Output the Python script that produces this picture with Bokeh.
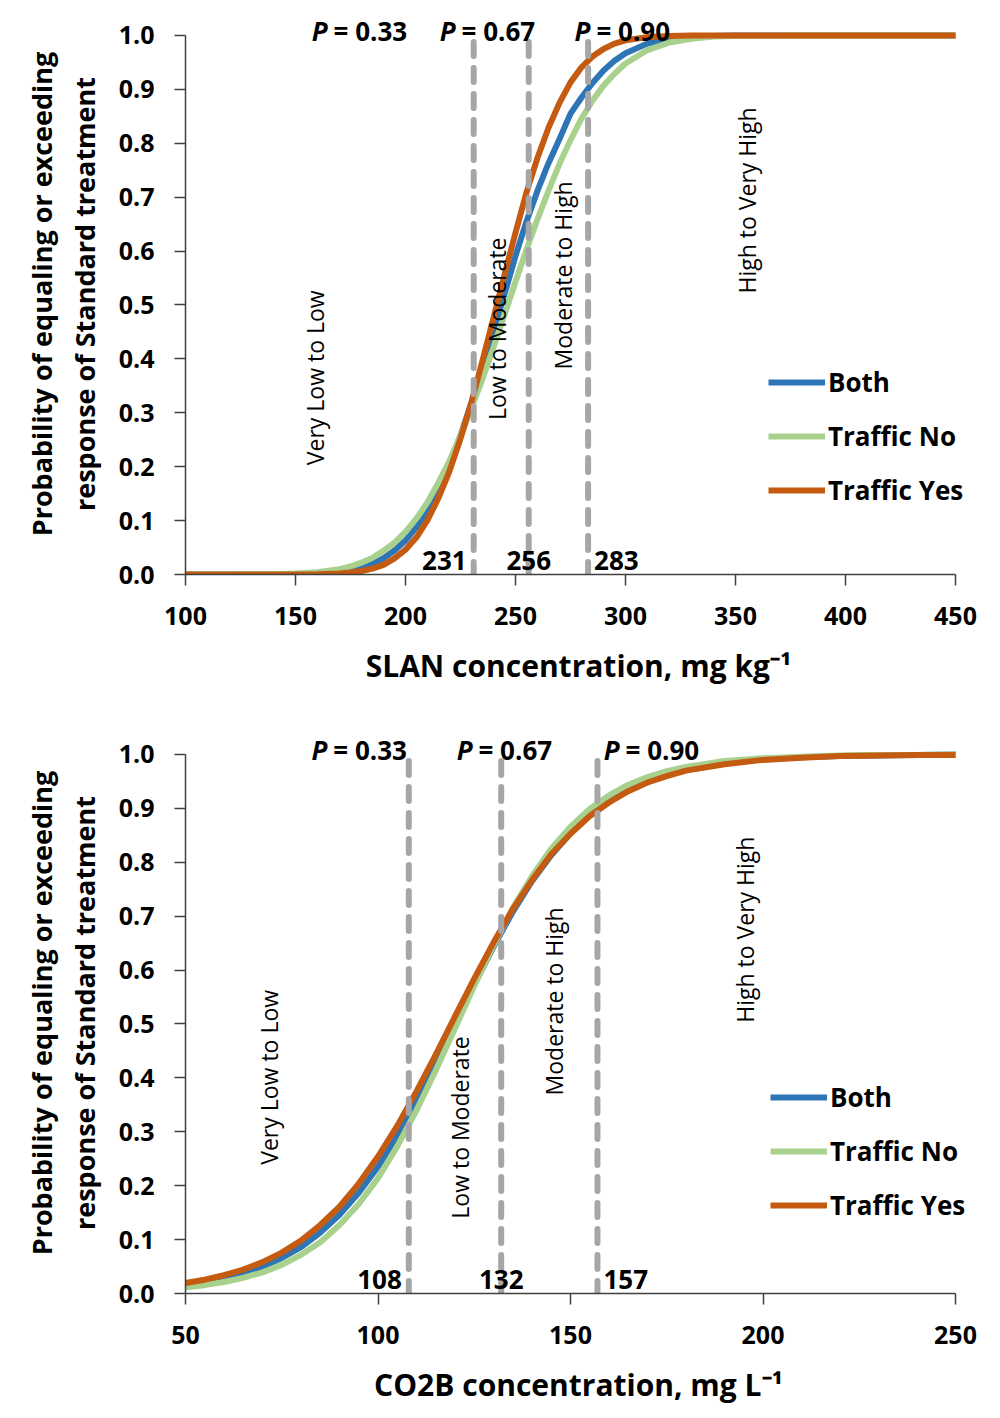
import numpy as np
from bokeh.plotting import figure
from bokeh.layouts import column
from bokeh.models import NumeralTickFormatter, FixedTicker, Range1d
from bokeh.core.properties import value
from bokeh.embed import file_html
from bokeh.resources import INLINE

# ---------------- data ----------------
series_names = ["Both", "Traffic No", "Traffic Yes"]
series_colors = ["#2E75B6", "#A9D18E", "#C55A11"]
y_ticks = [0.0, 0.1, 0.2, 0.3, 0.4, 0.5, 0.6, 0.7, 0.8, 0.9, 1.0]
p_levels = ["0.33", "0.67", "0.90"]
region_labels = ["Very Low to Low", "Low to Moderate", "Moderate to High", "High to Very High"]

# Panel 1: SLAN
slan_x = [100, 120, 140, 150, 160, 170, 175, 180, 185, 190, 195, 200, 205, 210, 215, 220,
          225, 230, 235, 240, 245, 250, 255, 260, 265, 270, 275, 280, 285, 290, 295, 300,
          310, 320, 330, 340, 350, 375, 400, 450]
slan_both = [0.0, 0.0, 0.0001, 0.0005, 0.0017, 0.0049, 0.0082, 0.0129, 0.0202, 0.0301, 0.0446,
             0.063, 0.0885, 0.119, 0.159, 0.206, 0.258, 0.319, 0.382, 0.452, 0.520, 0.591,
             0.655, 0.712, 0.763, 0.808, 0.855, 0.885, 0.912, 0.935, 0.953, 0.967, 0.985,
             0.994, 0.998, 0.999, 1.0, 1.0, 1.0, 1.0]
slan_no = [0.0, 0.0001, 0.0006, 0.0017, 0.0044, 0.010, 0.015, 0.022, 0.031, 0.044, 0.059,
           0.079, 0.104, 0.134, 0.171, 0.211, 0.258, 0.309, 0.363, 0.421, 0.482, 0.543,
           0.603, 0.659, 0.712, 0.762, 0.806, 0.846, 0.879, 0.907, 0.929, 0.948, 0.973,
           0.987, 0.994, 0.998, 0.999, 1.0, 1.0, 1.0]
slan_yes = [0.0, 0.0, 0.0, 0.0001, 0.0005, 0.0019, 0.0036, 0.0064, 0.011, 0.018, 0.030,
            0.046, 0.069, 0.101, 0.142, 0.192, 0.252, 0.320, 0.397, 0.476, 0.556, 0.634,
            0.709, 0.773, 0.829, 0.875, 0.913, 0.941, 0.961, 0.975, 0.985, 0.991, 0.997,
            0.999, 1.0, 1.0, 1.0, 1.0, 1.0, 1.0]
slan_thresholds = [231, 256, 283]
slan_x_ticks = [100, 150, 200, 250, 300, 350, 400, 450]

# Panel 2: CO2B
co2b_x = [50, 55, 60, 65, 70, 75, 80, 85, 90, 95, 100, 105, 110, 115, 120, 125, 130, 135,
          140, 145, 150, 155, 160, 165, 170, 175, 180, 190, 200, 210, 220, 230, 240, 250]
co2b_both = [0.0158, 0.0212, 0.0282, 0.0377, 0.0497, 0.0659, 0.0862, 0.113, 0.146, 0.187,
             0.235, 0.292, 0.357, 0.427, 0.500, 0.573, 0.643, 0.708, 0.765, 0.813, 0.854,
             0.887, 0.914, 0.934, 0.950, 0.962, 0.972, 0.984, 0.991, 0.995, 0.997, 0.998,
             0.999, 1.0]
co2b_no = [0.0114, 0.0155, 0.0213, 0.0290, 0.0392, 0.0531, 0.0717, 0.0953, 0.127, 0.166,
           0.214, 0.273, 0.340, 0.414, 0.492, 0.571, 0.646, 0.715, 0.774, 0.825, 0.866,
           0.899, 0.924, 0.944, 0.958, 0.969, 0.977, 0.988, 0.993, 0.996, 0.998, 0.999,
           0.999, 1.0]
co2b_yes = [0.0194, 0.0256, 0.0339, 0.0444, 0.0582, 0.0759, 0.0981, 0.127, 0.161, 0.204,
            0.254, 0.311, 0.375, 0.443, 0.514, 0.584, 0.651, 0.713, 0.767, 0.815, 0.853,
            0.886, 0.911, 0.932, 0.948, 0.960, 0.970, 0.982, 0.990, 0.994, 0.997, 0.998,
            0.999, 0.999]
co2b_thresholds = [108, 132, 157]
co2b_x_ticks = [50, 100, 150, 200, 250]

FONT = value("Open Sans")
AXIS_COLOR = "#404040"
Y_TOP = 1.0408
FRAME_W = 770     # px between first and last x tick
EXTRA_R = 16      # px of frame beyond last tick (room for legend text)


def make_panel(x, ys, thresholds, x_ticks, xlabel, p_anchor_x, region_xy,
               legend_loc, height, border_top, border_bottom):
    span = x_ticks[-1] - x_ticks[0]
    xr = Range1d(x_ticks[0], x_ticks[-1] + span * EXTRA_R / FRAME_W)
    p = figure(width=990, height=height, x_range=xr, y_range=Range1d(0, Y_TOP),
               output_backend="svg", toolbar_location=None,
               min_border_left=185, min_border_right=990 - 185 - FRAME_W - EXTRA_R,
               min_border_top=border_top, min_border_bottom=border_bottom)
    p.outline_line_color = None
    p.grid.visible = False
    p.background_fill_color = "white"
    p.border_fill_color = "white"

    # curves
    for name, col, yv in zip(series_names, series_colors, ys):
        p.line(x, yv, line_color=col, line_width=6, legend_label=name, line_join="round")

    # dashed threshold lines
    for t in thresholds:
        p.line([t, t], [0.988, 0.0], line_color="#A6A6A6", line_width=6,
               line_dash="14 12", line_cap="round")

    # threshold numbers
    aligns = ["right", "center", "left"]
    offsets = [-7, 0, 6]
    for t, a, o in zip(thresholds, aligns, offsets):
        p.text(x=[t], y=[0.026], text=[str(t)], text_align=a, text_baseline="middle",
               x_offset=o, text_font=FONT, text_font_size="26px", text_font_style="bold",
               text_color="black")

    # P = labels
    for ax, lv in zip(p_anchor_x, p_levels):
        p.text(x=[ax], y=[1.009], text=["P"], text_align="right", text_baseline="middle",
               x_offset=-6, text_font=FONT, text_font_size="26px",
               text_font_style="bold italic", text_color="black")
        p.text(x=[ax], y=[1.009], text=["= " + lv], text_align="left", text_baseline="middle",
               text_font=FONT, text_font_size="26px", text_font_style="bold", text_color="black")

    # region labels
    for (rx, ry), lab in zip(region_xy, region_labels):
        p.text(x=[rx], y=[ry], text=[lab], angle=np.pi / 2, text_align="center",
               text_baseline="middle", text_font=FONT, text_font_size="23px",
               text_color="black")

    # axes
    p.xaxis.ticker = FixedTicker(ticks=x_ticks)
    p.xaxis.bounds = (x_ticks[0], x_ticks[-1])
    p.yaxis.ticker = FixedTicker(ticks=y_ticks)
    p.yaxis.formatter = NumeralTickFormatter(format="0.0")
    p.yaxis.bounds = (0, 1)
    for ax in (p.xaxis[0], p.yaxis[0]):
        ax.axis_line_color = AXIS_COLOR
        ax.axis_line_width = 1.5
        ax.major_tick_line_color = AXIS_COLOR
        ax.major_tick_line_width = 1.5
        ax.major_tick_in = 0
        ax.major_tick_out = 11
        ax.minor_tick_line_color = None
        ax.major_label_text_font = "Open Sans"
        ax.major_label_text_font_size = "25px"
        ax.major_label_text_font_style = "bold"
        ax.major_label_text_color = "black"
        ax.axis_label_text_font = "Open Sans"
        ax.axis_label_text_font_style = "bold"
        ax.axis_label_text_color = "black"
    p.yaxis.major_label_standoff = 20
    p.xaxis.major_label_standoff = 21
    p.xaxis.axis_label = xlabel
    p.xaxis.axis_label_text_font_size = "30px"
    p.xaxis.axis_label_standoff = 17
    p.yaxis.axis_label = "Probability of equaling or exceeding\nresponse of Standard treatment"
    p.yaxis.axis_label_text_font_size = "27px"
    p.yaxis.axis_label_text_line_height = 1.15
    p.yaxis.axis_label_standoff = 13

    leg = p.legend[0]
    leg.location = legend_loc
    leg.label_text_font = "Open Sans"
    leg.label_text_font_size = "26px"
    leg.label_text_font_style = "bold"
    leg.label_text_color = "black"
    leg.glyph_width = 57
    leg.glyph_height = 40
    leg.label_height = 40
    leg.spacing = 14
    leg.label_standoff = 3
    leg.padding = 0
    leg.margin = 0
    leg.border_line_color = None
    leg.background_fill_alpha = 0
    return p


p1 = make_panel(slan_x, [slan_both, slan_no, slan_yes], slan_thresholds, slan_x_ticks,
                "SLAN concentration, mg kg\u207b\u00b9",
                [167.3, 225.5, 286.8],
                [(159.0, 0.365), (241.4, 0.456), (271.4, 0.555), (355.0, 0.694)],
                (583, 64), 692, 13, 118)
p2 = make_panel(co2b_x, [co2b_both, co2b_no, co2b_yes], co2b_thresholds, co2b_x_ticks,
                "CO2B concentration, mg L\u207b\u00b9",
                [88.4, 126.1, 164.3],
                [(71.6, 0.401), (121.4, 0.308), (145.6, 0.542), (195.2, 0.675)],
                (585, 68), 718, 40, 117)

layout = column(p1, p2, spacing=0)
open("out.html", "w").write(file_html(layout, INLINE))
